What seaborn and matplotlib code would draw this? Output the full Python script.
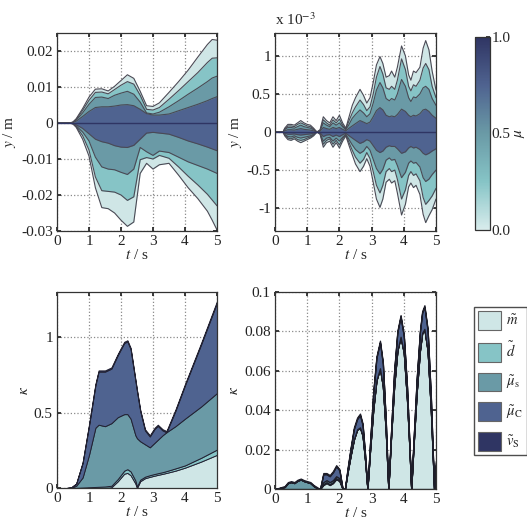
import numpy as np
import matplotlib
matplotlib.use("Agg")
import matplotlib.pyplot as plt
import seaborn as sns
from matplotlib.colors import LinearSegmentedColormap
from matplotlib.patches import Patch
from matplotlib.cm import ScalarMappable
from matplotlib.colors import Normalize
from matplotlib.ticker import FuncFormatter

# -----------------------------
# Theme
# -----------------------------
sns.set_theme(style="ticks")
plt.rcParams["font.family"] = ["Liberation Serif", "DejaVu Serif"]
plt.rcParams["mathtext.fontset"] = "stix"
plt.rcParams["axes.unicode_minus"] = False
plt.rcParams["font.size"] = 11

band_colors = ["#cfe6e6", "#86c4c6", "#6a9aa6", "#4f6390", "#2f3563"]
edge_col = "#4a4a55"

# -----------------------------
# Data: top-left, percentile bands of y (m)
# -----------------------------
tl_t = [0, 0.4, 0.5, 0.6, 0.8, 1.0, 1.2, 1.4, 1.6, 1.8, 2.0, 2.2, 2.4, 2.6,
        2.8, 3.0, 3.2, 3.5, 3.8, 4.1, 4.4, 4.7, 4.85, 5.0]
tl_u1 = [0, 0, 0.0003, 0.0012, 0.0040, 0.0072, 0.0094, 0.0095, 0.0089, 0.0102,
         0.0118, 0.0134, 0.0124, 0.0088, 0.0048, 0.0046, 0.0056, 0.0085, 0.0115,
         0.0147, 0.0183, 0.0218, 0.0232, 0.0230]
tl_u2 = [0, 0, 0.0002, 0.0010, 0.0035, 0.0063, 0.0085, 0.0086, 0.0081, 0.0093,
         0.0105, 0.0115, 0.0108, 0.0077, 0.0038, 0.0036, 0.0043, 0.0066, 0.0090,
         0.0115, 0.0140, 0.0168, 0.0180, 0.0181]
tl_u3 = [0, 0, 0.0002, 0.0008, 0.0028, 0.0052, 0.0071, 0.0072, 0.0068, 0.0077,
         0.0083, 0.0088, 0.0080, 0.0058, 0.0028, 0.0025, 0.0030, 0.0045, 0.0062,
         0.0080, 0.0097, 0.0115, 0.0125, 0.0130]
tl_u4 = [0, 0, 0.0001, 0.0005, 0.0018, 0.0032, 0.0043, 0.0045, 0.0045, 0.0047,
         0.0050, 0.0051, 0.0048, 0.0038, 0.0026, 0.0022, 0.0022, 0.0025, 0.0034,
         0.0043, 0.0052, 0.0062, 0.0068, 0.0073]
tl_l4 = [0, 0, -0.0001, -0.0005, -0.0015, -0.0030, -0.0045, -0.0052, -0.0056,
         -0.0063, -0.0067, -0.0068, -0.0062, -0.0045, -0.0028, -0.0026, -0.0028,
         -0.0031, -0.0040, -0.0050, -0.0058, -0.0067, -0.0072, -0.0077]
tl_l3 = [0, 0, -0.0002, -0.0008, -0.0025, -0.0050, -0.0095, -0.0122, -0.0128,
         -0.0130, -0.0137, -0.0143, -0.0128, -0.0068, -0.0080, -0.0090, -0.0078,
         -0.0082, -0.0095, -0.0108, -0.0118, -0.0128, -0.0134, -0.0140]
tl_l2 = [0, 0, -0.0002, -0.0010, -0.0035, -0.0075, -0.0150, -0.0188, -0.0190,
         -0.0192, -0.0200, -0.0215, -0.0205, -0.0102, -0.0096, -0.0100, -0.0090,
         -0.0098, -0.0122, -0.0148, -0.0172, -0.0198, -0.0214, -0.0230]
tl_l1 = [0, 0, -0.0003, -0.0012, -0.0045, -0.0092, -0.0180, -0.0235, -0.0238,
         -0.0250, -0.0270, -0.0287, -0.0275, -0.0140, -0.0112, -0.0128, -0.0116,
         -0.0112, -0.0145, -0.0180, -0.0210, -0.0245, -0.0270, -0.0297]

# -----------------------------
# Data: top-right, percentile bands of y (x 1e-3 m)
# -----------------------------
tr_t = [0, 0.25, 0.3, 0.4, 0.5, 0.6, 0.7, 0.8, 0.9, 1.0,
        1.1, 1.2, 1.3, 1.4, 1.5, 1.6, 1.7, 1.8, 1.9, 2.0,
        2.1, 2.2, 2.3, 2.4, 2.5, 2.64, 2.75, 2.85, 2.95, 3.05,
        3.15, 3.26, 3.35, 3.45, 3.55, 3.62, 3.72, 3.8, 3.93, 4.05,
        4.15, 4.22, 4.3, 4.38, 4.5, 4.6, 4.68, 4.78, 4.88, 5.0]
tr_u1 = [0, 0, 0.05, 0.1, 0.1, 0.09, 0.12, 0.15, 0.12, 0.1,
         0.09, 0.05, 0, 0.03, 0.2, 0.15, 0.12, 0.2, 0.15, 0.22,
         0.12, 0.05, 0.2, 0.35, 0.45, 0.56, 0.48, 0.38, 0.45, 0.65,
         0.88, 0.99, 0.9, 0.72, 0.74, 0.8, 0.72, 0.85, 1.13, 1.0,
         0.75, 0.68, 0.8, 0.78, 0.85, 1.1, 1.2, 1.08, 0.8, 0.55]
tr_u2 = [0, 0, 0.04, 0.08, 0.08, 0.07, 0.1, 0.12, 0.1, 0.08,
         0.07, 0.04, 0, 0.02, 0.16, 0.12, 0.09, 0.16, 0.12, 0.17,
         0.09, 0.04, 0.15, 0.25, 0.33, 0.42, 0.36, 0.28, 0.33, 0.5,
         0.72, 0.86, 0.76, 0.58, 0.56, 0.6, 0.56, 0.68, 0.96, 0.82,
         0.6, 0.54, 0.62, 0.6, 0.68, 0.84, 0.9, 0.82, 0.6, 0.45]
tr_u3 = [0, 0, 0.03, 0.06, 0.06, 0.05, 0.07, 0.09, 0.07, 0.06,
         0.05, 0.03, 0, 0.015, 0.12, 0.09, 0.07, 0.12, 0.09, 0.12,
         0.07, 0.03, 0.1, 0.18, 0.23, 0.29, 0.25, 0.2, 0.24, 0.38,
         0.55, 0.65, 0.58, 0.44, 0.41, 0.44, 0.42, 0.5, 0.69, 0.6,
         0.45, 0.4, 0.46, 0.45, 0.5, 0.58, 0.6, 0.56, 0.44, 0.35]
tr_u4 = [0, 0, 0.015, 0.03, 0.03, 0.025, 0.035, 0.045, 0.035, 0.03,
         0.025, 0.015, 0, 0.01, 0.06, 0.045, 0.035, 0.06, 0.045, 0.06,
         0.035, 0.015, 0.05, 0.08, 0.11, 0.15, 0.13, 0.11, 0.13, 0.2,
         0.28, 0.32, 0.29, 0.22, 0.2, 0.21, 0.2, 0.23, 0.3, 0.27,
         0.22, 0.2, 0.22, 0.21, 0.24, 0.29, 0.3, 0.27, 0.22, 0.18]
tr_l4 = [0, 0, -0.015, -0.03, -0.03, -0.025, -0.035, -0.04, -0.035, -0.03,
         -0.025, -0.015, 0, -0.01, -0.06, -0.04, -0.035, -0.06, -0.04, -0.06,
         -0.035, -0.015, -0.05, -0.08, -0.11, -0.15, -0.13, -0.1, -0.12, -0.18,
         -0.24, -0.27, -0.25, -0.2, -0.18, -0.19, -0.19, -0.22, -0.28, -0.26,
         -0.21, -0.19, -0.21, -0.2, -0.23, -0.28, -0.3, -0.28, -0.25, -0.22]
tr_l3 = [0, 0, -0.03, -0.06, -0.065, -0.05, -0.07, -0.08, -0.07, -0.06,
         -0.05, -0.03, 0, -0.015, -0.12, -0.08, -0.07, -0.12, -0.08, -0.12,
         -0.07, -0.03, -0.1, -0.17, -0.23, -0.28, -0.25, -0.19, -0.24, -0.36,
         -0.48, -0.55, -0.49, -0.37, -0.34, -0.37, -0.36, -0.44, -0.6, -0.53,
         -0.41, -0.38, -0.41, -0.4, -0.46, -0.6, -0.65, -0.62, -0.56, -0.5]
tr_l2 = [0, 0, -0.04, -0.08, -0.09, -0.07, -0.1, -0.11, -0.1, -0.08,
         -0.065, -0.04, 0, -0.02, -0.16, -0.11, -0.09, -0.16, -0.11, -0.17,
         -0.09, -0.04, -0.14, -0.24, -0.33, -0.41, -0.36, -0.27, -0.35, -0.52,
         -0.7, -0.8, -0.7, -0.52, -0.48, -0.52, -0.5, -0.62, -0.88, -0.76,
         -0.57, -0.52, -0.57, -0.55, -0.64, -0.86, -0.95, -0.9, -0.84, -0.74]
tr_l1 = [0, 0, -0.05, -0.1, -0.11, -0.09, -0.12, -0.14, -0.12, -0.1,
         -0.08, -0.05, 0, -0.03, -0.2, -0.14, -0.12, -0.2, -0.14, -0.21,
         -0.12, -0.05, -0.18, -0.3, -0.42, -0.52, -0.45, -0.35, -0.45, -0.66,
         -0.88, -0.99, -0.88, -0.66, -0.62, -0.67, -0.64, -0.8, -1.09, -0.95,
         -0.72, -0.67, -0.73, -0.7, -0.82, -1.08, -1.19, -1.1, -1.02, -0.88]

# -----------------------------
# Data: bottom-left, stacked kappa contributions
# -----------------------------
bl_t = [0, 0.3, 0.45, 0.6, 0.8, 1.0, 1.2, 1.3, 1.5, 1.7, 1.9, 2.1, 2.2, 2.3,
        2.45, 2.5, 2.6, 2.75, 2.9, 3.05, 3.15, 3.3, 3.42, 3.7, 4.0, 4.5, 5.0]
bl_m = [0, 0, 0, 0, 0, 0, 0, 0, 0, 0.005, 0.045, 0.095, 0.1, 0.085,
        0.03, 0, 0.045, 0.065, 0.074, 0.082, 0.087, 0.094, 0.1, 0.115, 0.135, 0.175, 0.22]
bl_d = [0, 0, 0, 0.001, 0.003, 0.005, 0.007, 0.008, 0.01, 0.01, 0.015, 0.02, 0.025, 0.025,
        0.02, 0.01, 0.01, 0.01, 0.011, 0.011, 0.011, 0.011, 0.012, 0.015, 0.015, 0.025, 0.035]
bl_s = [0, 0, 0.002, 0.014, 0.067, 0.215, 0.393, 0.412, 0.4, 0.415, 0.41, 0.375, 0.365, 0.35,
        0.3, 0.32, 0.255, 0.215, 0.185, 0.207, 0.222, 0.245, 0.258, 0.28, 0.31, 0.34, 0.375]
bl_c = [0, 0, 0.003, 0.014, 0.096, 0.194, 0.282, 0.352, 0.362, 0.362, 0.412, 0.472, 0.482, 0.462,
        0.362, 0.312, 0.202, 0.092, 0.072, 0.092, 0.092, 0.032, 0.0, 0.102, 0.222, 0.411, 0.6]
bl_v = [0, 0, 0, 0.001, 0.004, 0.006, 0.008, 0.008, 0.008, 0.008, 0.008, 0.008, 0.008, 0.008,
        0.008, 0.008, 0.008, 0.008, 0.008, 0.008, 0.008, 0.008, 0.008, 0.008, 0.008, 0.009, 0.01]

# -----------------------------
# Data: bottom-right, stacked kappa contributions
# -----------------------------
br_t = [0, 0.3, 0.4, 0.5, 0.6, 0.7, 0.8, 0.9, 1.0, 1.1,
        1.2, 1.3, 1.4, 1.5, 1.6, 1.7, 1.8, 1.9, 2.0, 2.1,
        2.17, 2.25, 2.35, 2.45, 2.55, 2.64, 2.72, 2.8,
        2.87, 2.95, 3.05, 3.15, 3.26, 3.35, 3.44,
        3.52, 3.6, 3.7, 3.8, 3.9, 4.0, 4.1, 4.17,
        4.23, 4.3, 4.4, 4.5, 4.57, 4.64, 4.74, 4.84, 4.9, 4.94, 5.0]
br_m = [0, 0, 0, 0, 0, 0, 0, 0, 0, 0,
        0, 0, 0, 0.002, 0.003, 0.002, 0.003, 0.005, 0.004, 0,
        0, 0.008, 0.017, 0.025, 0.030, 0.031, 0.027, 0.014,
        0, 0.019, 0.040, 0.055, 0.061, 0.052, 0.029,
        0, 0.025, 0.052, 0.070, 0.077, 0.069, 0.045, 0.022,
        0, 0.021, 0.049, 0.070, 0.079, 0.081, 0.070, 0.040, 0.016, 0, 0.012]
br_d = [0, 0, 0, 0, 0, 0, 0, 0, 0, 0,
        0, 0, 0, 0.0005, 0.0005, 0.0005, 0.0005, 0.0005, 0.0005, 0,
        0, 0.0003, 0.0003, 0.0003, 0.0003, 0.0003, 0.0003, 0.0003,
        0, 0.0003, 0.0003, 0.0003, 0.0003, 0.0003, 0.0003,
        0, 0.0003, 0.0003, 0.0003, 0.0003, 0.0003, 0.0003, 0.0003,
        0, 0.0003, 0.0003, 0.0003, 0.0003, 0.0003, 0.0003, 0.0003, 0.0003, 0, 0.0003]
br_s = [0, 0.001, 0.003, 0.0035, 0.003, 0.0042, 0.0048, 0.004, 0.0035, 0.003,
        0.0015, 0.0005, 0, 0.001, 0.001, 0.001, 0.001, 0.001, 0.001, 0,
        0, 0, 0, 0, 0, 0, 0, 0,
        0, 0, 0, 0, 0, 0, 0,
        0, 0, 0, 0, 0, 0, 0, 0,
        0, 0, 0, 0, 0, 0, 0, 0, 0, 0, 0]
br_c = [0, 0, 0, 0, 0, 0, 0, 0, 0, 0,
        0, 0, 0, 0.004, 0.003, 0.003, 0.004, 0.005, 0.004, 0,
        0, 0.0012, 0.0032, 0.0052, 0.0052, 0.0062, 0.0052, 0.0022,
        0, 0.0032, 0.0082, 0.0112, 0.0132, 0.0112, 0.0052,
        0, 0.0022, 0.0072, 0.0092, 0.0102, 0.0082, 0.0062, 0.0022,
        0, 0.0022, 0.0062, 0.0092, 0.0102, 0.0112, 0.0102, 0.0062, 0.0022, 0, 0.0012]
br_v = [0, 0.0005, 0.0005, 0.0005, 0.0005, 0.0005, 0.0005, 0.0005, 0.0005, 0.0005,
        0.0005, 0.0005, 0, 0.0006, 0.0006, 0.0006, 0.0006, 0.0006, 0.0006, 0,
        0, 0.0008, 0.0008, 0.0008, 0.0008, 0.0008, 0.0008, 0.0008,
        0, 0.0008, 0.0008, 0.0008, 0.0008, 0.0008, 0.0008,
        0, 0.0008, 0.0008, 0.0008, 0.0008, 0.0008, 0.0008, 0.0008,
        0, 0.0008, 0.0008, 0.0008, 0.0008, 0.0008, 0.0008, 0.0008, 0.0008, 0, 0.0008]

legend_labels = [r"$\tilde{m}$", r"$\tilde{d}$", r"$\tilde{\mu}_{\mathrm{s}}$",
                 r"$\tilde{\mu}_{\mathrm{C}}$", r"$\tilde{v}_{\mathrm{S}}$"]

# -----------------------------
# Figure
# -----------------------------
W, H = 527, 529
fig = plt.figure(figsize=(W / 100, H / 100), dpi=100)


def px_axes(x0, y0, x1, y1):
    return fig.add_axes([x0 / W, 1 - y1 / H, (x1 - x0) / W, (y1 - y0) / H])


ax1 = px_axes(57, 33, 217, 231)
ax2 = px_axes(275, 33, 436, 231)
cax = px_axes(475, 37, 490, 230)
ax3 = px_axes(57, 292, 217, 488)
ax4 = px_axes(275, 292, 436, 489)

fmt = FuncFormatter(lambda v, p: "%g" % round(v, 6))


def style(ax, ylim, yticks, ylabel):
    ax.set_xlim(0, 5)
    ax.set_ylim(*ylim)
    ax.set_xticks([0, 1, 2, 3, 4, 5])
    ax.set_yticks(yticks)
    ax.yaxis.set_major_formatter(fmt)
    ax.set_axisbelow(True)
    ax.grid(True, linestyle=":", color="#8a8a8a", linewidth=0.9)
    ax.tick_params(direction="in", length=3, top=True, right=True,
                   labelsize=11, colors="#222222", pad=3)
    for sp in ax.spines.values():
        sp.set_color("#333333")
        sp.set_linewidth(0.9)
        sp.set_zorder(5)
    ax.set_xlabel(r"$t$ / s", fontsize=11, labelpad=0)
    ax.set_ylabel(ylabel, fontsize=11, labelpad=2)


def draw_bands(ax, t, uppers, lowers):
    for up, lo, c in zip(uppers, lowers, band_colors[:4]):
        ax.fill_between(t, lo, up, color=c, linewidth=0, zorder=2)
    for curve in uppers + lowers:
        sns.lineplot(x=t, y=curve, ax=ax, color=edge_col, linewidth=0.8,
                     legend=False, zorder=3)
    sns.lineplot(x=t, y=np.zeros(len(t)), ax=ax, color=band_colors[4],
                 linewidth=1.0, legend=False, zorder=3)


draw_bands(ax1, tl_t, [tl_u1, tl_u2, tl_u3, tl_u4], [tl_l1, tl_l2, tl_l3, tl_l4])
style(ax1, (-0.03, 0.025), [-0.03, -0.02, -0.01, 0, 0.01, 0.02], r"$y$ / m")

draw_bands(ax2, tr_t, [tr_u1, tr_u2, tr_u3, tr_u4], [tr_l1, tr_l2, tr_l3, tr_l4])
style(ax2, (-1.3, 1.3), [-1, -0.5, 0, 0.5, 1], r"$y$ / m")
ax2.text(0.0, 1.025, r"x 10$^{-3}$", transform=ax2.transAxes,
         fontsize=11, ha="left", va="bottom")

ax3.stackplot(bl_t, bl_m, bl_d, bl_s, bl_c, bl_v, colors=band_colors,
              edgecolor="#222233", linewidth=0.7, zorder=2)
style(ax3, (0, 1.3), [0, 0.5, 1], r"$\kappa$")

ax4.stackplot(br_t, br_m, br_d, br_s, br_c, br_v, colors=band_colors,
              edgecolor="#1e1e2a", linewidth=0.9, zorder=2)
style(ax4, (0, 0.1), [0, 0.02, 0.04, 0.06, 0.08, 0.1], r"$\kappa$")

# colorbar for mu
cmap = LinearSegmentedColormap.from_list("mu", ["#d8ecec"] + band_colors[1:])
cb = fig.colorbar(ScalarMappable(norm=Normalize(0, 1), cmap=cmap), cax=cax)
cb.set_ticks([0, 0.5, 1])
cb.set_ticklabels(["0.0", "0.5", "1.0"])
cb.ax.tick_params(direction="in", length=3, labelsize=11, pad=1)
cb.outline.set_edgecolor("#333333")
cb.outline.set_linewidth(0.9)
cb.set_label(r"$\mu$", fontsize=11)
cb.ax.yaxis.set_label_coords(2.55, 0.5)

# legend for contributions
handles = [Patch(facecolor=c, edgecolor="#666666", linewidth=0.8) for c in band_colors]
fig.legend(handles, legend_labels, loc="upper left",
           bbox_to_anchor=(474 / W, 1 - 307 / H), borderaxespad=0,
           frameon=True, fancybox=False, edgecolor="#222222",
           fontsize=10.5, handlelength=1.55, handleheight=1.55,
           labelspacing=0.75, handletextpad=0.35, borderpad=0.3)

fig.savefig("out.png", dpi=100)
plt.close(fig)
